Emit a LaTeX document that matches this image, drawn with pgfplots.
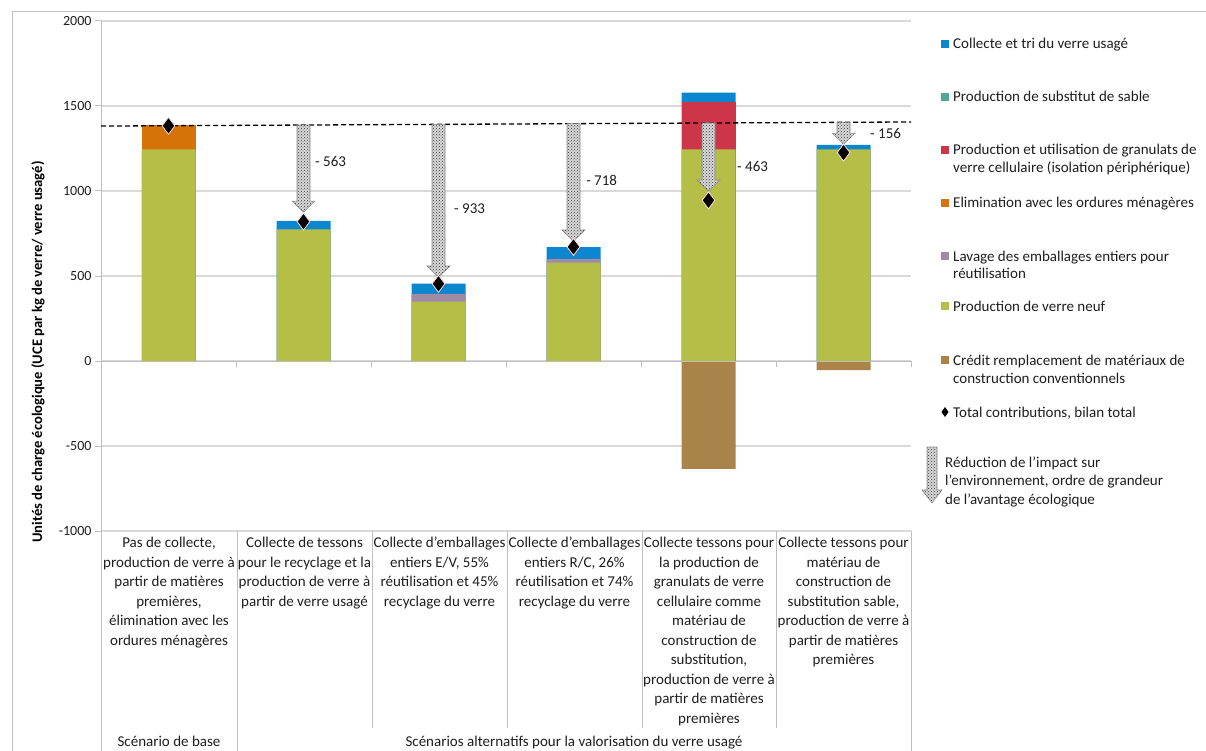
\documentclass[border=0pt]{standalone}
\usepackage{fontspec}
\setmainfont{Carlito}
\usepackage{pgfplots}
\pgfplotsset{compat=1.18}
\usetikzlibrary{patterns}

\definecolor{cBlue}{RGB}{11,134,207}
\definecolor{cTeal}{RGB}{77,170,150}
\definecolor{cRed}{RGB}{205,53,72}
\definecolor{cOrange}{RGB}{214,115,8}
\definecolor{cMauve}{RGB}{160,138,166}
\definecolor{cGreen}{RGB}{181,190,70}
\definecolor{cBrown}{RGB}{169,131,74}
\definecolor{cGrid}{RGB}{217,217,217}
\definecolor{cAxis}{RGB}{190,190,190}
\definecolor{cText}{RGB}{30,30,30}

\newcommand{\legfont}{\fontsize{15}{18}\selectfont}
\newcommand{\tabfont}{\fontsize{15}{19.5}\selectfont}

\tikzset{gainarrow/.style={draw=gray!90, line width=0.6pt, fill=gray!30,
  postaction={pattern=crosshatch dots, pattern color=gray!40!black}}}

% hatched block arrow: x, top, tip
\newcommand{\gain}[3]{%
  \draw[gainarrow]
    ([xshift=-6.5pt]axis cs:#1,#2) -- ([xshift=6.5pt]axis cs:#1,#2)
    -- ([xshift=6.5pt,yshift=11pt]axis cs:#1,#3) -- ([xshift=11.5pt,yshift=11pt]axis cs:#1,#3)
    -- (axis cs:#1,#3) -- ([xshift=-11.5pt,yshift=11pt]axis cs:#1,#3)
    -- ([xshift=-6.5pt,yshift=11pt]axis cs:#1,#3) -- cycle;}

\newcommand{\legtext}[3]{\node[anchor=base west, inner sep=0, font=\legfont, text=cText, yshift=-5pt] at (#1pt,-#2pt) {#3};}
\newcommand{\legsq}[2]{\fill[#1] (941pt,-#2pt) ++(0,4pt) rectangle ++(8pt,-8pt);}

\begin{document}
\begin{tikzpicture}
\useasboundingbox (0,0) rectangle (1206pt,-751pt);
\draw[cAxis, line width=1pt] (12pt,-12pt) rectangle (1230pt,-780pt);

\begin{axis}[
  at={(101pt,-531pt)}, anchor=south west,
  scale only axis, width=810pt, height=510pt,
  xmin=-0.5, xmax=5.5, ymin=-1000, ymax=2000,
  axis x line=none, axis y line*=left,
  y axis line style={-, draw=cAxis, line width=1pt},
  xtick=\empty,
  ytick={-1000,-500,...,2000},
  yticklabels={-1000,-500,0,500,1000,1500,2000},
  yticklabel style={font=\fontsize{14}{16}\selectfont, text=cText},
  ymajorgrids, grid style={cGrid, line width=1.3pt},
  major tick length=6pt, tick align=outside, tick style={cAxis, line width=1pt},
  ybar, bar width=0.4, bar shift=0pt,
  clip=false,
]
% cumulative tops, painted from the top layer down
\addplot[fill=cBlue, draw=none] coordinates {(1,825) (2,455) (3,670) (4,1578) (5,1272)};
\addplot[fill=cRed, draw=none] coordinates {(4,1526)};
\addplot[fill=cOrange, draw=none] coordinates {(0,1390)};
\addplot[fill=cMauve, draw=none] coordinates {(2,395) (3,600)};
\addplot[fill=cGreen, draw=none] coordinates {(0,1245) (1,775) (2,350) (3,578) (4,1245) (5,1245)};
\addplot[fill=cBrown, draw=none] coordinates {(4,-635) (5,-53)};

\draw[cAxis, line width=1pt] (axis cs:-0.5,0) -- (axis cs:5.5,0);
\pgfplotsinvokeforeach{0.5,1.5,2.5,3.5,4.5,5.5}{
  \draw[cAxis, line width=1pt] (axis cs:#1,0) -- ([yshift=-6pt]axis cs:#1,0);}

\addplot[sharp plot, black, line width=1.3pt, dash pattern=on 5pt off 3pt] coordinates {(-0.5,1382) (5.5,1406)};

\gain{1}{1388}{876}
\gain{2}{1392}{494}
\gain{3}{1396}{706}
\gain{4}{1400}{1000}
\gain{5}{1404}{1276}

\addplot[only marks, mark=diamond*, mark size=8.5pt, mark options={fill=black, draw=white!85!red, line width=0.8pt}]
  coordinates {(0,1383) (1,820) (2,454) (3,671) (4,945) (5,1226)};

\node[anchor=west, inner sep=0, font=\legfont, text=cText] at (axis cs:1.085,1171) {- 563};
\node[anchor=west, inner sep=0, font=\legfont, text=cText] at (axis cs:2.115,894) {- 933};
\node[anchor=west, inner sep=0, font=\legfont, text=cText] at (axis cs:3.093,1065) {- 718};
\node[anchor=west, inner sep=0, font=\legfont, text=cText] at (axis cs:4.211,1147) {- 463};
\node[anchor=west, inner sep=0, font=\legfont, text=cText] at (axis cs:5.196,1341) {- 156};
\end{axis}

% category table below the plot
\draw[cAxis, line width=1pt] (101pt,-531pt) -- (101pt,-751pt);
\foreach \x in {237,911} \draw[cAxis, line width=1pt] (\x pt,-531pt) -- (\x pt,-751pt);
\foreach \x in {372,507,642,776} \draw[cAxis, line width=1pt] (\x pt,-531pt) -- (\x pt,-728pt);

\begin{scope}[every node/.style={anchor=north, inner sep=0, align=center, font=\tabfont, text=cText}]
\node at (169pt,-534pt) {\strut Pas de collecte,\\production de verre à\\partir de matières\\premières,\\élimination avec les\\ordures ménagères};
\node at (304.5pt,-534pt) {\strut Collecte de tessons\\pour le recyclage et la\\production de verre à\\partir de verre usagé};
\node at (439.5pt,-534pt) {\strut Collecte d’emballages\\entiers E/V, 55\%\\réutilisation et 45\%\\recyclage du verre};
\node at (574.5pt,-534pt) {\strut Collecte d’emballages\\entiers R/C, 26\%\\réutilisation et 74\%\\recyclage du verre};
\node at (709pt,-534pt) {\strut Collecte tessons pour\\la production de\\granulats de verre\\cellulaire comme\\matériau de\\construction de\\substitution,\\production de verre à\\partir de matières\\premières};
\node at (843.5pt,-534pt) {\strut Collecte tessons pour\\matériau de\\construction de\\substitution sable,\\production de verre à\\partir de matières\\premières};
\end{scope}
\node[anchor=base, inner sep=0, font=\tabfont, text=cText] at (169pt,-746pt) {Scénario de base};
\node[anchor=base, inner sep=0, font=\tabfont, text=cText] at (574pt,-746pt) {Scénarios alternatifs pour la valorisation du verre usagé};

% y label
\node[rotate=90, inner sep=0, font=\fontsize{14.6}{16}\selectfont\bfseries, text=black] at (38pt,-352pt)
  {Unités de charge écologique (UCE par kg de verre/ verre usagé)};

% legend
\legsq{cBlue}{44}   \legtext{953}{44}{Collecte et tri du verre usagé}
\legsq{cTeal}{97}   \legtext{953}{97}{Production de substitut de sable}
\legsq{cRed}{150}   \legtext{953}{150}{Production et utilisation de granulats de}
                    \legtext{953}{168}{verre cellulaire (isolation périphérique)}
\legsq{cOrange}{203}\legtext{953}{203}{Elimination avec les ordures ménagères}
\legsq{cMauve}{256} \legtext{953}{256}{Lavage des emballages entiers pour}
                    \legtext{953}{273}{réutilisation}
\legsq{cGreen}{306} \legtext{953}{306}{Production de verre neuf}
\legsq{cBrown}{360} \legtext{953}{360}{Crédit remplacement de matériaux de}
                    \legtext{953}{378}{construction conventionnels}
\fill[black] (945pt,-407pt) -- (948.5pt,-412pt) -- (945pt,-417pt) -- (941.5pt,-412pt) -- cycle;
\legtext{953}{412}{Total contributions, bilan total}
\draw[gainarrow]
  (927pt,-447pt) -- (937pt,-447pt) -- (937pt,-490pt) -- (942pt,-490pt) -- (932pt,-503pt)
  -- (922pt,-490pt) -- (927pt,-490pt) -- cycle;
\legtext{945}{462}{Réduction de l’impact sur}
\legtext{945}{480}{l’environnement, ordre de grandeur}
\legtext{945}{499}{de l’avantage écologique}
\end{tikzpicture}
\end{document}
